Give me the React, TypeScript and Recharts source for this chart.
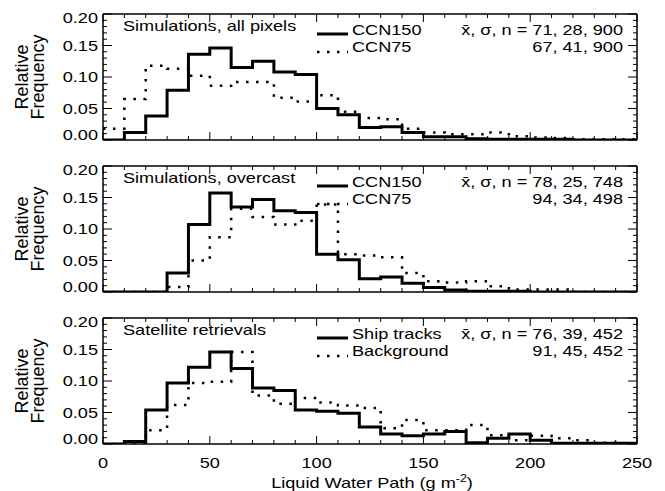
import React from 'react';
import { LineChart, Line, XAxis, YAxis } from 'recharts';

// bin edges of the histograms (10 g m-2 bins), also used as minor x ticks
const binEdges = [0, 10, 20, 30, 40, 50, 60, 70, 80, 90, 100, 110, 120, 130, 140, 150, 160, 170, 180, 190, 200, 210, 220, 230, 240, 250];
const yTicks = [0, 0.01, 0.02, 0.03, 0.04, 0.05, 0.06, 0.07, 0.08, 0.09, 0.1, 0.11, 0.12, 0.13, 0.14, 0.15, 0.16, 0.17, 0.18, 0.19, 0.2];

// relative frequency per bin (0-10, 10-20, ... 240-250)
const allPixelsCcn150 = [0.0, 0.012, 0.038, 0.079, 0.136, 0.146, 0.115, 0.125, 0.108, 0.104, 0.05, 0.04, 0.02, 0.021, 0.012, 0.005, 0.005, 0.002, 0.001, 0.001, 0.001, 0.001, 0.0, 0.0, 0.0];
const allPixelsCcn75 = [0.018, 0.065, 0.118, 0.113, 0.102, 0.086, 0.092, 0.092, 0.067, 0.061, 0.071, 0.045, 0.035, 0.033, 0.018, 0.012, 0.009, 0.009, 0.012, 0.006, 0.004, 0.003, 0.001, 0.001, 0.001];

const overcastCcn150 = [0.0, 0.0, 0.0, 0.03, 0.107, 0.157, 0.135, 0.147, 0.129, 0.126, 0.06, 0.051, 0.021, 0.024, 0.014, 0.007, 0.003, 0.001, 0.001, 0.001, 0.0, 0.0, 0.0, 0.0, 0.0];
const overcastCcn75 = [0.0, 0.0, 0.0, 0.008, 0.05, 0.087, 0.132, 0.119, 0.107, 0.113, 0.139, 0.06, 0.058, 0.055, 0.03, 0.017, 0.015, 0.017, 0.009, 0.004, 0.004, 0.004, 0.0, 0.0, 0.0];

const shipTracks = [0.0, 0.004, 0.054, 0.097, 0.122, 0.146, 0.12, 0.089, 0.085, 0.054, 0.052, 0.049, 0.027, 0.016, 0.013, 0.016, 0.02, 0.002, 0.009, 0.016, 0.006, 0.001, 0.001, 0.001, 0.001];
const background = [0.0, 0.0, 0.022, 0.062, 0.097, 0.099, 0.146, 0.077, 0.064, 0.073, 0.066, 0.061, 0.057, 0.025, 0.038, 0.022, 0.022, 0.03, 0.014, 0.006, 0.013, 0.009, 0.006, 0.002, 0.001];

const titles = ['Simulations, all pixels', 'Simulations, overcast', 'Satellite retrievals'];
const solidNames = ['CCN150', 'CCN150', 'Ship tracks'];
const dottedNames = ['CCN75', 'CCN75', 'Background'];
const solidStats = ['71, 28, 900', '78, 25, 748', '76, 39, 452'];
const dottedStats = ['67, 41, 900', '94, 34, 498', '91, 45, 452'];

const FONT = '"Liberation Sans", Arial, Helvetica, sans-serif';
const FS = 14.5;
const STRETCH = 1.25; // the lettering in the figure is wide and short
const W = 665;
const TOP = 14;
const PLOT_H = 126;
const LEFT = 103;
const RIGHT = 28;

const toSteps = (solid: number[], dotted: number[]) =>
  binEdges.map((x, i) => ({
    x,
    solid: solid[Math.min(i, solid.length - 1)],
    dotted: dotted[Math.min(i, dotted.length - 1)],
  }));

const panels = [
  toSteps(allPixelsCcn150, allPixelsCcn75),
  toSteps(overcastCcn150, overcastCcn75),
  toSteps(shipTracks, background),
];

const isMajorY = (v: number) => Math.round(v * 100) % 5 === 0;
const isMajorX = (v: number) => v % 50 === 0;

const Label: React.FC<{ x: number; y: number; anchor?: 'start' | 'middle' | 'end'; children: React.ReactNode }> = ({ x, y, anchor = 'start', children }) => (
  <g transform={`translate(${x} ${y}) scale(${STRETCH} 1)`}>
    <text x={0} y={0} dy="0.36em" textAnchor={anchor} fontFamily={FONT} fontSize={FS} fill="#000">
      {children}
    </text>
  </g>
);

const LeftTick = ({ x, y, payload }: any) => {
  const v = payload.value;
  const major = isMajorY(v);
  const shift = v === 0 ? -5 : Math.abs(v - 0.2) < 1e-9 ? 4 : 0;
  return (
    <g>
      <line x1={x} x2={x + (major ? 9 : 4)} y1={y} y2={y} stroke="#000" strokeWidth={1} />
      {major && <Label x={x - 5} y={y + shift} anchor="end">{v.toFixed(2)}</Label>}
    </g>
  );
};

const RightTick = ({ x, y, payload }: any) => {
  const major = isMajorY(payload.value);
  return <line x1={x} x2={x - (major ? 9 : 4)} y1={y} y2={y} stroke="#000" strokeWidth={1} />;
};

const TopTick = ({ x, y, payload }: any) => {
  const major = isMajorX(payload.value);
  return <line x1={x} x2={x} y1={y} y2={y + (major ? 8 : 4)} stroke="#000" strokeWidth={1} />;
};

const BottomTick = ({ x, y, payload, showLabels }: any) => {
  const v = payload.value;
  const major = isMajorX(v);
  return (
    <g>
      <line x1={x} x2={x} y1={y} y2={y - (major ? 8 : 4)} stroke="#000" strokeWidth={1} />
      {showLabels && major && <Label x={x} y={y + 19} anchor="middle">{v}</Label>}
    </g>
  );
};

const axisLine = { stroke: '#000', strokeWidth: 1.5 };

const Panel: React.FC<{ index: number }> = ({ index }) => {
  const last = index === panels.length - 1;
  const bottomH = last ? 47 : 12;
  const height = TOP + PLOT_H + bottomH;
  const midY = TOP + PLOT_H / 2;

  return (
    <div style={{ position: 'relative', width: W, height }}>
      <LineChart width={W} height={height} data={panels[index]} margin={{ top: 0, right: 0, bottom: 0, left: 0 }}>
        <XAxis
          xAxisId="b"
          dataKey="x"
          type="number"
          domain={[0, 250]}
          allowDataOverflow
          ticks={binEdges}
          interval={0}
          height={bottomH}
          tickSize={0}
          tickMargin={0}
          axisLine={axisLine}
          tickLine={false}
          tick={(p: any) => <BottomTick {...p} showLabels={last} />}
        />
        <XAxis
          xAxisId="t"
          orientation="top"
          dataKey="x"
          type="number"
          domain={[0, 250]}
          allowDataOverflow
          ticks={binEdges}
          interval={0}
          height={TOP}
          tickSize={0}
          tickMargin={0}
          axisLine={axisLine}
          tickLine={false}
          tick={(p: any) => <TopTick {...p} />}
        />
        <YAxis
          yAxisId="l"
          type="number"
          domain={[0, 0.2]}
          allowDataOverflow
          ticks={yTicks}
          interval={0}
          width={LEFT}
          tickSize={0}
          tickMargin={0}
          axisLine={axisLine}
          tickLine={false}
          tick={(p: any) => <LeftTick {...p} />}
        />
        <YAxis
          yAxisId="r"
          orientation="right"
          type="number"
          domain={[0, 0.2]}
          allowDataOverflow
          ticks={yTicks}
          interval={0}
          width={RIGHT}
          tickSize={0}
          tickMargin={0}
          axisLine={axisLine}
          tickLine={false}
          tick={(p: any) => <RightTick {...p} />}
        />
        <Line
          xAxisId="b"
          yAxisId="l"
          type="stepAfter"
          dataKey="dotted"
          stroke="#000"
          strokeWidth={2.5}
          strokeDasharray="2.5 7.5"
          dot={false}
          activeDot={false}
          isAnimationActive={false}
        />
        <Line
          xAxisId="b"
          yAxisId="l"
          type="stepAfter"
          dataKey="solid"
          stroke="#000"
          strokeWidth={3}
          dot={false}
          activeDot={false}
          isAnimationActive={false}
        />
      </LineChart>
      <svg width={W} height={height} style={{ position: 'absolute', left: 0, top: 0, pointerEvents: 'none' }}>
        <Label x={123} y={TOP + 12}>{titles[index]}</Label>
        <line x1={317} x2={348} y1={TOP + 20} y2={TOP + 20} stroke="#000" strokeWidth={3} />
        <line x1={317} x2={348} y1={TOP + 38} y2={TOP + 38} stroke="#000" strokeWidth={2.5} strokeDasharray="2.5 7.5" />
        <Label x={352} y={TOP + 16}>{solidNames[index]}</Label>
        <Label x={352} y={TOP + 32.7}>{dottedNames[index]}</Label>
        <Label x={623} y={TOP + 16} anchor="end">{'x\u0304, \u03c3, n = ' + solidStats[index]}</Label>
        <Label x={623} y={TOP + 32.7} anchor="end">{dottedStats[index]}</Label>
        <text x={22} y={midY} dy="0.36em" textAnchor="middle" transform={`rotate(-90 22 ${midY})`} fontFamily={FONT} fontSize={18}>
          Relative
        </text>
        <text x={38} y={midY} dy="0.36em" textAnchor="middle" transform={`rotate(-90 38 ${midY})`} fontFamily={FONT} fontSize={18}>
          Frequency
        </text>
        {last && (
          <Label x={372} y={TOP + PLOT_H + 39} anchor="middle">
            Liquid Water Path (g m
            <tspan dy={-6} fontSize={10}>-2</tspan>
            <tspan dy={6}>)</tspan>
          </Label>
        )}
      </svg>
    </div>
  );
};

const App: React.FC = () => (
  <div style={{ position: 'absolute', left: 0, top: 0, width: W, height: 491, background: '#fff' }}>
    {panels.map((_, i) => (
      <Panel key={i} index={i} />
    ))}
  </div>
);

export default App;
